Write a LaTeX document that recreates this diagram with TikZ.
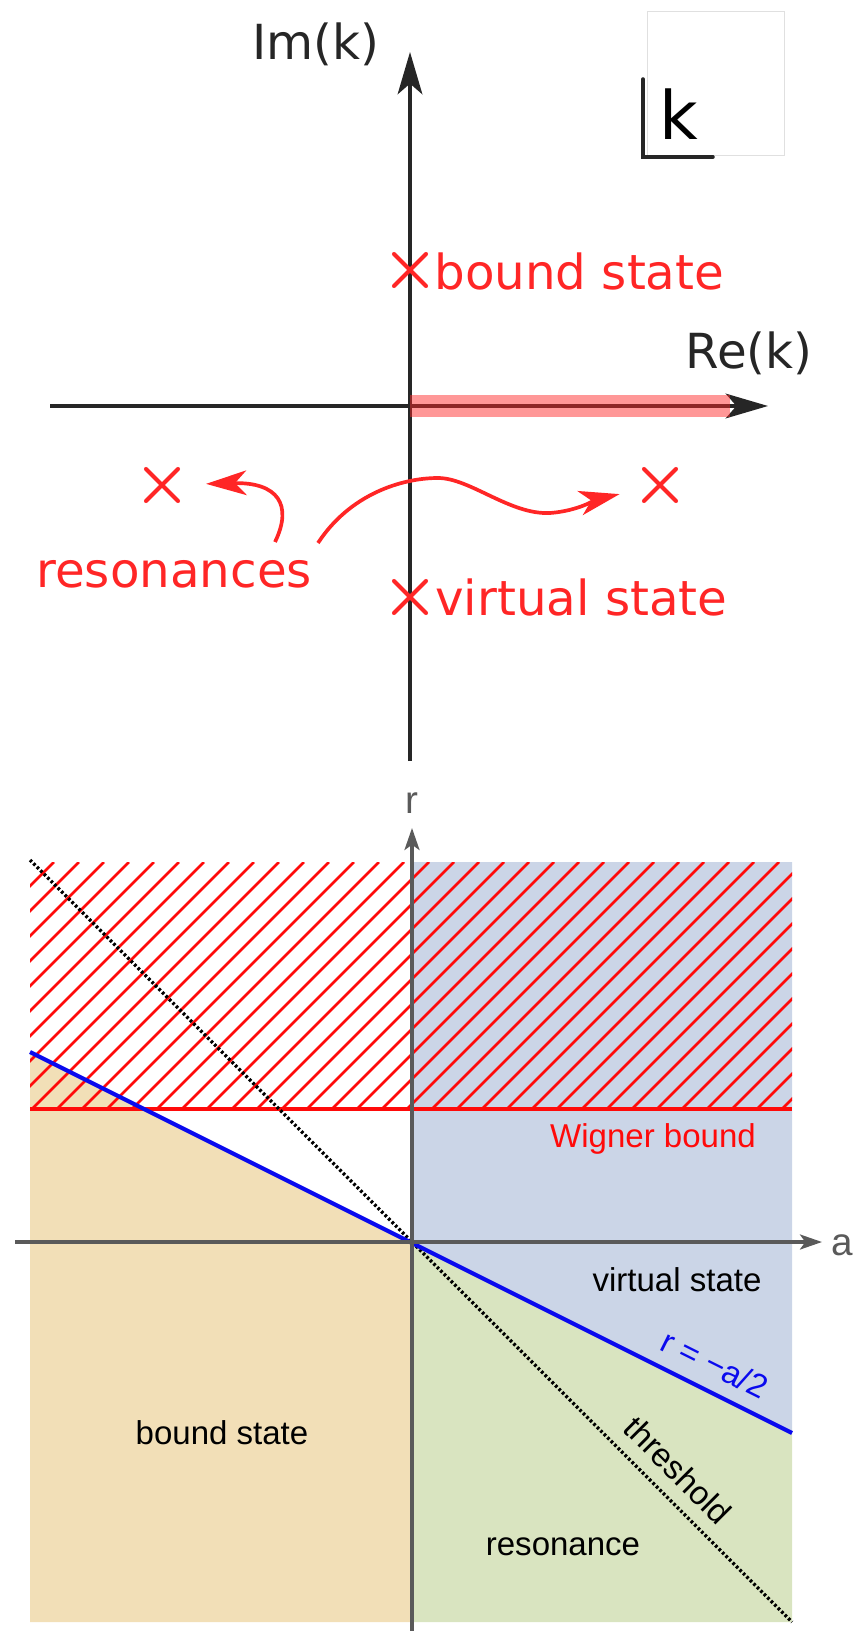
\documentclass[tikz,border=0pt]{standalone}
\usepackage{fontspec}
\setmainfont{DejaVu Sans}
\newfontfamily\plotfont{Liberation Sans}
\usetikzlibrary{arrows.meta,shapes.misc,positioning,calc}

\definecolor{kred}{HTML}{FF2626}
\definecolor{kblack}{HTML}{262626}
\definecolor{axgray}{HTML}{5A5A5A}
\definecolor{tanfill}{HTML}{F2DFB7}
\definecolor{bluefill}{HTML}{CBD5E7}
\definecolor{greenfill}{HTML}{D9E4C0}
\definecolor{hatchred}{HTML}{FF0A0A}
\definecolor{linblue}{HTML}{0A0AEE}

\begin{document}
\begin{tikzpicture}[x=0.02cm,y=-0.02cm,
   kaxis/.style={draw=kblack,line width=2.3pt,-{Stealth[length=24pt,width=14pt,inset=6pt]}},
   cutband/.style={draw=kred,line width=12pt,opacity=0.48},
   xmark/.style={cross out,draw=kred,line width=2.3pt,line cap=round,minimum size=0.56cm,inner sep=0pt},
   klab/.style={inner sep=0pt,text=kblack,font=\fontsize{27.5}{33}\selectfont},
   redlab/.style={inner sep=0pt,text=kred,anchor=west,font=\fontsize{27.5}{33}\selectfont},
   resarrow/.style={draw=kred,line width=2.1pt,-{Stealth[length=23pt,width=14pt,inset=6.5pt]}},
   paxis/.style={draw=axgray,line width=2pt,-{Stealth[length=12.5pt,width=8.5pt,inset=3pt]}},
   alab/.style={inner sep=0pt,text=axgray,font=\plotfont\fontsize{22}{26}\selectfont},
   plab/.style={inner sep=0pt,text=black,font=\plotfont\fontsize{18.8}{22}\selectfont},
   hatch/.style={draw=hatchred,line width=1.45pt},
   thresh/.style={draw=black,line width=2pt,dash pattern=on 1.5pt off 1.3pt}]
  \useasboundingbox (0,0) rectangle (862,1631);

  % k plane
  \draw[kaxis] (410,761) -- (410,52);
  \draw[kaxis] (50,406) -- (768,406);
  \draw[cutband] (410,406) -- (730,406);
  \node[klab] (imk) at (316,44) {Im(k)};
  \node[klab] (rek) at (749,353) {Re(k)};

  \draw[draw=black!12,line width=0.5pt] (647,11) rectangle (784,155);
  \draw[kblack,line width=2pt,line cap=round] (643,79) |- (713,157);
  \node[anchor=base west,inner sep=0pt,font=\fontsize{38}{44}\selectfont] (kname) at (659,140) {k};

  \node[xmark] (xb) at (410,270) {};
  \node[xmark] (xv) at (410,597) {};
  \node[xmark] (xl) at (162,485) {};
  \node[xmark] (xr) at (660,485) {};
  \node[redlab] (bs) at (434,271) {bound state};
  \node[redlab] (vs) at (435,597) {virtual state};
  \node[redlab] (res) at (36,574) {resonances};

  \coordinate (tl) at (275,542);
  \coordinate (tr) at (318,543);
  \draw[resarrow,shorten >=0.56cm] (tl) .. controls (293,505) and (278,482) .. (xl);
  \draw[resarrow,shorten >=0.5cm] (tr) .. controls (350,494) and (402,478) .. (438,478)
     .. controls (470,478) and (510,515) .. (550,513)
     .. controls (578,511) and (598,499) .. (xr);

  % a-r plane
  \fill[tanfill] (30,1052) -- (412,1243) -- (412,1622) -- (30,1622) -- cycle;
  \fill[bluefill] (412,862) -- (792,862) -- (792,1433) -- (412,1243) -- cycle;
  \fill[greenfill] (412,1243) -- (792,1433) -- (792,1622) -- (412,1622) -- cycle;
  \begin{scope}
    \clip (30,862) rectangle (792,1109);
    \foreach \c in {891,916,...,1901}
      \draw[hatch] ({\c-1109},1109) -- ({\c-862},862);
  \end{scope}
  \draw[draw=hatchred,line width=2.5pt] (30,1109) -- (792,1109);
  \draw[thresh] (30,860) -- (792,1622);
  \draw[draw=linblue,line width=2.4pt] (30,1052) -- (792,1433);
  \draw[paxis] (15,1242) -- (822,1242);
  \draw[paxis] (412,1631) -- (412,828);
  \node[alab] (alabel) at (842,1245) {a};
  \node[alab] (rlabel) at (412,803) {r};

  \node[plab,text=hatchred] (wig) at (653,1139) {Wigner bound};
  \node[plab] (vstate) at (677,1280) {virtual state};
  \node[plab] (bstate) at (222,1433) {bound state};
  \node[plab] (reson) at (563,1547) {resonance};
  \node[plab,text=linblue,rotate=-26.57] (rline) at (715,1364) {r = −a/2};
  \node[plab,rotate=-45] (thr) at (678,1470) {threshold};
\end{tikzpicture}
\end{document}
